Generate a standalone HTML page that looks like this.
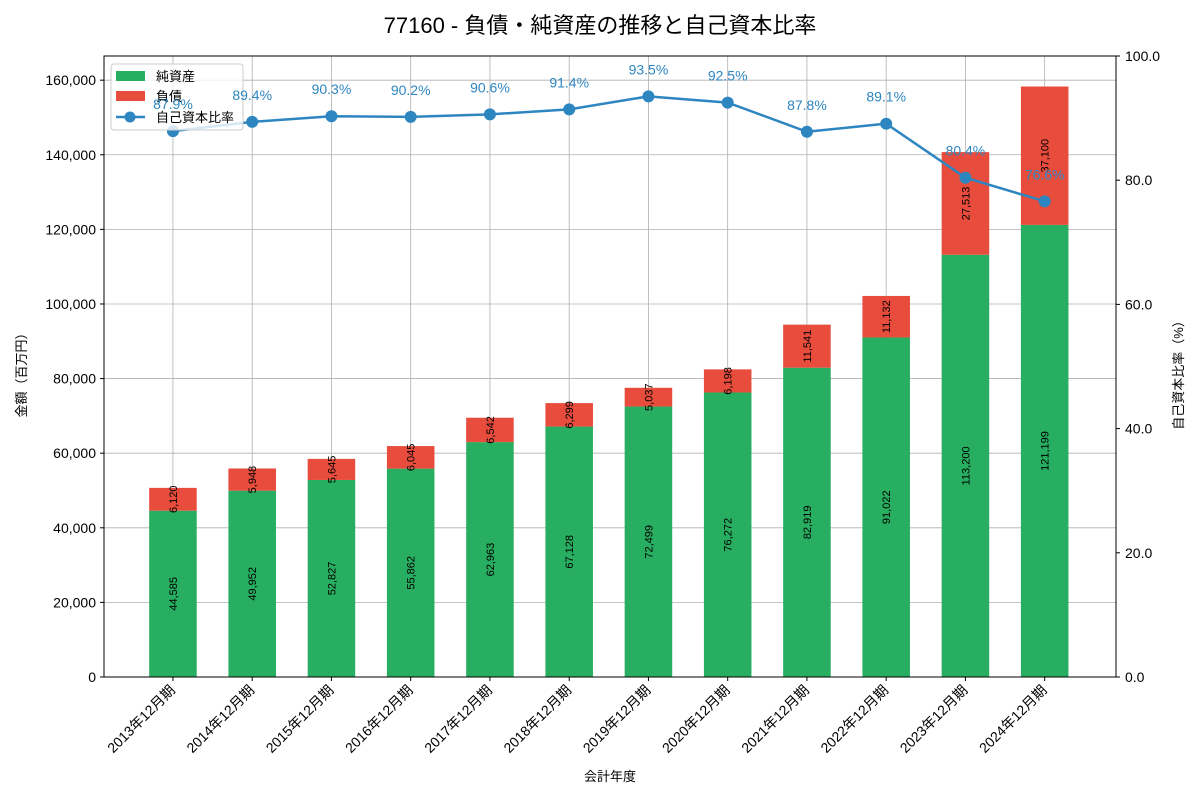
<!DOCTYPE html>
<html><head><meta charset="utf-8"><style>
body{margin:0;background:#fff;font-family:"Liberation Sans","Noto Sans CJK JP",sans-serif}
svg text{font-family:"Liberation Sans","Noto Sans CJK JP",sans-serif}
</style></head><body>
<svg id="c" width="1200" height="800" xmlns="http://www.w3.org/2000/svg">
<text x="600" y="33" text-anchor="middle" font-size="22">77160 - 負債・純資産の推移と自己資本比率</text>
<g id="grid"></g><g id="bars"></g><g id="line"></g><g id="axes"></g>
<g>
<rect x="111" y="64" width="132" height="66" rx="3" fill="#fff" fill-opacity="0.8" stroke="#ccc"/>
<rect x="116" y="71" width="29" height="10" fill="#27ae60"/>
<text x="156" y="81" font-size="13">純資産</text>
<rect x="116" y="91" width="29" height="10" fill="#e74c3c"/>
<text x="156" y="101" font-size="13">負債</text>
<line x1="116" y1="117" x2="145" y2="117" stroke="#2e86c1" stroke-width="2.5"/>
<circle cx="130" cy="117" r="5.5" fill="#2e86c1"/>
<text x="156" y="122" font-size="13">自己資本比率</text>
</g>
<g id="labels"></g>
</svg>
<script>
const categories=["2013年12月期","2014年12月期","2015年12月期","2016年12月期","2017年12月期","2018年12月期","2019年12月期","2020年12月期","2021年12月期","2022年12月期","2023年12月期","2024年12月期"];
const equity=[44585,49952,52827,55862,62963,67128,72499,76272,82919,91022,113200,121199];
const liabilities=[6120,5948,5645,6045,6542,6299,5037,6198,11541,11132,27513,37100];
const ratio=[87.9,89.4,90.3,90.2,90.6,91.4,93.5,92.5,87.8,89.1,80.4,76.6];
const leftTicks=[0,20000,40000,60000,80000,100000,120000,140000,160000];
const rightTicks=[0,20,40,60,80,100];
const L=104,R=1116,T=56,B=677;
const yL=v=>B-v/166480*(B-T);
const yR=v=>B-v/100*(B-T);
const xC=i=>L+(i+0.87)/(11.87+0.9)*(R-L);
const bw=0.6*(R-L)/12.77;
const NS="http://www.w3.org/2000/svg";
function mk(p,t,a,txt){const e=document.createElementNS(NS,t);for(const k in a)e.setAttribute(k,a[k]);if(txt!=null)e.textContent=txt;document.getElementById(p).appendChild(e);return e;}
const fmt=v=>v.toLocaleString('en-US');
leftTicks.forEach(v=>{const g=mk('grid','line',{x1:L,x2:R,y1:yL(v),y2:yL(v),stroke:'#b0b0b0','stroke-width':0.8});


const t=mk('axes','text',{x:L-8,y:yL(v)+5,'text-anchor':'end','font-size':14},fmt(v));


mk('axes','line',{x1:L-4,x2:L,y1:yL(v),y2:yL(v),stroke:'#000'});});
rightTicks.forEach(v=>{const t=mk('axes','text',{x:R+9,y:yR(v)+5,'font-size':14},v.toFixed(1));


mk('axes','line',{x1:R,x2:R+4,y1:yR(v),y2:yR(v),stroke:'#000'});});
categories.forEach((c,i)=>{const x=xC(i);
const g=mk('grid','line',{x1:x,x2:x,y1:T,y2:B,stroke:'#b0b0b0','stroke-width':0.8});


const b1=mk('bars','rect',{x:x-bw/2,y:yL(equity[i]),width:bw,height:B-yL(equity[i]),fill:'#27ae60'});


const b2=mk('bars','rect',{x:x-bw/2,y:yL(equity[i]+liabilities[i]),width:bw,height:yL(equity[i])-yL(equity[i]+liabilities[i]),fill:'#e74c3c'});


const ye=(B+yL(equity[i]))/2, yl=(yL(equity[i])+yL(equity[i]+liabilities[i]))/2;
const t1=mk('labels','text',{x:x+4,y:ye,'text-anchor':'middle','font-size':11,transform:`rotate(-90 ${x+4} ${ye})`},fmt(equity[i]));


const t2=mk('labels','text',{x:x+4,y:yl,'text-anchor':'middle','font-size':11,transform:`rotate(-90 ${x+4} ${yl})`},fmt(liabilities[i]));


mk('axes','line',{x1:x,x2:x,y1:B,y2:B+4,stroke:'#000'});
const tl=mk('axes','text',{x:x+3,y:B+14,'text-anchor':'end','font-size':14,transform:`rotate(-45 ${x+3} ${B+14})`},c);

});
const pts=ratio.map((v,i)=>xC(i)+','+yR(v)).join(' ');
const pl=mk('line','polyline',{points:pts,fill:'none',stroke:'#2e86c1','stroke-width':2.5});


ratio.forEach((v,i)=>{const c=mk('line','circle',{cx:xC(i),cy:yR(v),r:6,fill:'#2e86c1'});


const t=mk('labels','text',{x:xC(i),y:yR(v)-22,'text-anchor':'middle','font-size':14,fill:'#2e86c1'},v.toFixed(1)+'%');

});
mk('axes','rect',{x:L,y:T,width:R-L,height:B-T,fill:'none',stroke:'#000','stroke-width':1});
const xt=mk('axes','text',{x:610,y:781,'text-anchor':'middle','font-size':13},'会計年度');


const yt=mk('axes','text',{x:26,y:372,'text-anchor':'middle','font-size':13,transform:'rotate(-90 26 372)'},'金額（百万円）');


const y2=mk('axes','text',{x:1183,y:372,'text-anchor':'middle','font-size':13,transform:'rotate(-90 1183 372)'},'自己資本比率（%）');


</script>
</body></html>
